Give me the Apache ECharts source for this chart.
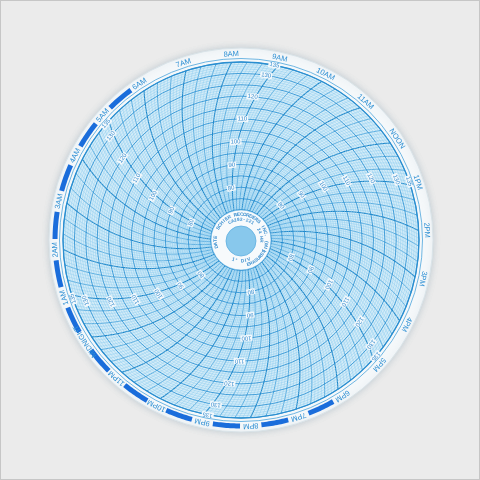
<!DOCTYPE html>
<html>
<head>
<meta charset="utf-8">
<script src="https://cdn.jsdelivr.net/npm/echarts@6/dist/echarts.min.js"></script>
<style>
  html, body { margin: 0; padding: 0; background: #ebebeb; }
  #main { width: 480px; height: 480px; box-sizing: border-box; border: 1px solid #c6c6c6; }
</style>
</head>
<body>
<div id="main"></div>
<script>
// hour names round the rim, 0 = midnight
const hourLabels = ['MIDNIGHT', '1AM', '2AM', '3AM', '4AM', '5AM', '6AM', '7AM', '8AM', '9AM', '10AM', '11AM',
  'NOON', '1PM', '2PM', '3PM', '4PM', '5PM', '6PM', '7PM', '8PM', '9PM', '10PM', '11PM'];
// night hours get a blue bar after them
const nightHours = [18, 19, 20, 21, 22, 23, 0, 1, 2, 3, 4, 5];
// printed scale values and the hour lines they are printed along
const scaleValues = [80, 90, 100, 110, 120, 130, 135];
const scaleLabelHours = [1, 5, 9, 13, 17, 21];
// hub text
const hubOuter = 'DATE  SCHIER RECORDERS INC. (MI)';
const hubInner = 'CA282-221  24 HR';
const hubBottom = '1° DIV';
const hubBottomRight = 'ERASURES';

const CX = 240, CY = 239, R0 = 30, R = 178;
const V_MIN = 70, V_MAX = 135;
const RIM_VALUE = 138.5;   // ring outside the grid for names and bars
const ARC = 178;           // pen arm radius, px

// time lines every 5 minutes, kind 2 = hour, 1 = 20 min, 0 = fine
const timeLines = [];
for (let m = 0; m < 24 * 60; m += 5) {
  timeLines.push([m / 60, m % 60 === 0 ? 2 : (m % 20 === 0 ? 1 : 0)]);
}
const scaleLabelData = [];
scaleLabelHours.forEach(h => scaleValues.forEach(v => scaleLabelData.push([v, h])));

// angle shift (in hours) of the pen arc at a given pixel radius
function arcShift(r) {
  const d = Math.acos(Math.min(1, r / (2 * ARC))) - Math.acos(R / (2 * ARC));
  return d * 180 / Math.PI / 15;
}
function pointOnArc(api, cs, v, t) {
  const p0 = api.coord([v, 0]);
  const r = Math.hypot(p0[0] - cs.cx, p0[1] - cs.cy);
  return api.coord([v, t - arcShift(r)]);
}

const lineStyles = [
  { stroke: '#8fcdee', lineWidth: 0.5 },
  { stroke: '#2f96d6', lineWidth: 0.8 },
  { stroke: '#1d86c9', lineWidth: 1.1 }
];

function hubText(str, r, midDeg, size, upright) {
  const cw = size * 0.66;
  const span = str.length * cw / r;
  const mid = midDeg * Math.PI / 180;
  const out = [];
  for (let i = 0; i < str.length; i++) {
    const off = (i + 0.5) * cw / r - span / 2;
    const b = upright ? mid - off : mid + off;
    out.push({
      type: 'text', z: 20,
      x: CX + r * Math.sin(b), y: CY - r * Math.cos(b),
      rotation: upright ? Math.PI - b : -b,
      style: { text: str[i], fill: '#3b8fcf', font: 'bold ' + size + 'px "Liberation Sans", Arial',
        align: 'center', verticalAlign: 'middle' }
    });
  }
  return out;
}

const chart = echarts.init(document.getElementById('main'));

const option = {
  backgroundColor: '#ebebeb',
  animation: false,
  polar: { center: [CX, CY], radius: [R0, R] },
  radiusAxis: {
    type: 'value', min: V_MIN, max: V_MAX, interval: 5, z: 3,
    axisLine: { show: false }, axisTick: { show: false }, axisLabel: { show: false },
    splitLine: { show: true, lineStyle: { color: '#2a91d3', width: 0.85 } },
    minorTick: { show: false, splitNumber: 5 },
    minorSplitLine: { show: true, lineStyle: { color: '#8fcdee', width: 0.5 } }
  },
  angleAxis: {
    type: 'value', min: 0, max: 24, startAngle: 213, clockwise: true, z: 3,
    axisLine: { show: true, lineStyle: { color: '#2a8ed0', width: 1.3 } },
    axisTick: { show: false }, axisLabel: { show: false }, splitLine: { show: false }
  },
  graphic: [
    { type: 'circle', z: -10, shape: { cx: CX, cy: CY, r: 192 },
      style: { fill: '#f5f8fa', stroke: '#d9e3e8', lineWidth: 1, shadowBlur: 6, shadowColor: 'rgba(120,150,170,0.35)' } },
    { type: 'ring', z: -5, shape: { cx: CX, cy: CY, r: R, r0: R0 },
      style: { fill: '#d4ecf8' } },
    { type: 'circle', z: 10, shape: { cx: CX, cy: CY, r: 181.5 },
      style: { fill: null, stroke: '#4ba4dc', lineWidth: 0.8 } },
    { type: 'circle', z: 10, shape: { cx: CX, cy: CY, r: 30 },
      style: { fill: '#f7fafc', stroke: '#6bb6e2', lineWidth: 0.6 } },
    { type: 'circle', z: 11, shape: { cx: CX, cy: CY + 1, r: 15 },
      style: { fill: '#88c8ec', stroke: '#5eaee0', lineWidth: 0.8 } }
  ].concat(
    hubText(hubOuter, 25.5, 5, 4.8, false),
    hubText(hubInner, 20.5, 30, 4.5, false),
    hubText(hubBottom, 21, 180, 4.8, true),
    hubText(hubBottomRight, 25.5, 140, 4.5, true)
  ),
  series: [
    {
      type: 'custom', coordinateSystem: 'polar', z: 2, clip: false, silent: true,
      data: timeLines,
      renderItem: function (params, api) {
        const cs = params.coordSys;
        const t = api.value(0), kind = api.value(1);
        const pts = [];
        for (let v = V_MIN; v <= V_MAX + 1e-6; v += 0.5) pts.push(pointOnArc(api, cs, v, t));
        return { type: 'polyline', shape: { points: pts }, style: Object.assign({ fill: null }, lineStyles[kind]) };
      }
    },
    {
      type: 'custom', coordinateSystem: 'polar', z: 4, clip: false, silent: true,
      data: nightHours.map(h => [h]),
      renderItem: function (params, api) {
        const h = api.value(0);
        const pts = [];
        for (let s = 0.22; s <= 0.7801; s += 0.04) pts.push(api.coord([RIM_VALUE, h + s]));
        return { type: 'polyline', shape: { points: pts },
          style: { fill: null, stroke: '#1a6ddb', lineWidth: 5, lineCap: 'butt' } };
      }
    },
    {
      type: 'custom', coordinateSystem: 'polar', z: 5, clip: false, silent: true,
      data: hourLabels.map((name, i) => [i, name]),
      renderItem: function (params, api) {
        const cs = params.coordSys;
        const p = api.coord([RIM_VALUE, api.value(0)]);
        const b = Math.atan2(p[0] - cs.cx, -(p[1] - cs.cy));
        return { type: 'text', x: p[0], y: p[1], rotation: -b,
          style: { text: hourLabels[params.dataIndex], fill: '#2f90d4',
            font: '7.5px "Liberation Sans", Arial', align: 'center', verticalAlign: 'middle' } };
      }
    },
    {
      type: 'custom', coordinateSystem: 'polar', z: 6, clip: false, silent: true,
      data: scaleLabelData,
      renderItem: function (params, api) {
        const cs = params.coordSys;
        const v = api.value(0), h = api.value(1);
        const p = pointOnArc(api, cs, v, h - 0.08);
        const b = Math.atan2(p[0] - cs.cx, -(p[1] - cs.cy));
        return { type: 'text', x: p[0], y: p[1], rotation: -b,
          style: { text: String(v), fill: '#3a8fd0', font: '6px "Liberation Sans", Arial',
            align: 'center', verticalAlign: 'middle', backgroundColor: '#f4f9fc', padding: [0, 1] } };
      }
    }
  ]
};

chart.setOption(option);
</script>
</body>
</html>
